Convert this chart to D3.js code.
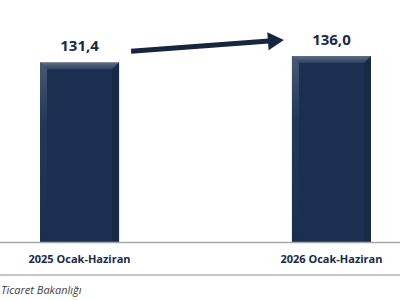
<!DOCTYPE html>
<html>
<head>
<meta charset="utf-8">
<script src="https://cdn.jsdelivr.net/npm/d3@7"></script>
<style>
    body { margin: 0; background: #fff; }
    svg { display: block; }
    .label { font-family: "Open Sans", sans-serif; font-weight: bold; fill: #1a2a44; }
</style>
</head>
<body>
<div id="chart"></div>
<script>
/**
 * Data.
 */
const categories = ['2025 Ocak-Haziran', '2026 Ocak-Haziran'];
const values = [131.4, 136.0];
const valueLabels = ['131,4', '136,0'];
const source = 'Ticaret Bakanlığı';

/**
 * Visual configs.
 */
const visWidth = 400, visHeight = 300;
const baseY = 242.5, topY = 56;
const barColor = '#1b3050';
const bevel = 7;

const svg = d3.select('#chart').append('svg')
    .attr('width', visWidth)
    .attr('height', visHeight);

const defs = svg.append('defs');
const gTop = defs.append('linearGradient').attr('id', 'bevel-top')
    .attr('x1', 0).attr('y1', 0).attr('x2', 0).attr('y2', 1);
gTop.append('stop').attr('offset', 0).attr('stop-color', '#fff').attr('stop-opacity', 0.3);
gTop.append('stop').attr('offset', 1).attr('stop-color', '#fff').attr('stop-opacity', 0.08);
const gSide = defs.append('linearGradient').attr('id', 'bevel-side')
    .attr('x1', 0).attr('y1', 0).attr('x2', 0).attr('y2', 1);
gSide.append('stop').attr('offset', 0).attr('stop-color', '#fff').attr('stop-opacity', 0.2);
gSide.append('stop').attr('offset', 0.35).attr('stop-color', '#fff').attr('stop-opacity', 0.03);
gSide.append('stop').attr('offset', 1).attr('stop-color', '#000').attr('stop-opacity', 0.05);

/**
 * Scales.
 */
const xScale = d3.scaleBand()
    .domain(categories)
    .range([40, 371])
    .paddingInner(0.686)
    .paddingOuter(0);
const yScale = d3.scaleLinear()
    .domain([0, d3.max(values)])
    .range([baseY, topY]);

const data = categories.map((c, i) => ({ cat: c, value: values[i], label: valueLabels[i] }));

// Bars with a bevel
const bars = svg.selectAll('g.bar').data(data).enter().append('g').attr('class', 'bar');
bars.each(function(d) {
    const g = d3.select(this);
    const x0 = xScale(d.cat), x1 = x0 + xScale.bandwidth(),
        y0 = yScale(d.value), y1 = baseY;
    g.append('rect')
        .attr('x', x0).attr('y', y0)
        .attr('width', x1 - x0).attr('height', y1 - y0)
        .attr('fill', barColor);
    // top bevel
    g.append('polygon')
        .attr('points', [[x0, y0], [x1, y0], [x1 - bevel, y0 + bevel], [x0 + bevel, y0 + bevel]].join(' '))
        .attr('fill', 'url(#bevel-top)');
    // left bevel
    g.append('polygon')
        .attr('points', [[x0, y0], [x0 + bevel, y0 + bevel], [x0 + bevel, y1], [x0, y1]].join(' '))
        .attr('fill', 'url(#bevel-side)');
    // right bevel (slightly darker)
    g.append('polygon')
        .attr('points', [[x1, y0], [x1 - bevel, y0 + bevel], [x1 - bevel, y1], [x1, y1]].join(' '))
        .attr('fill', '#000').attr('fill-opacity', 0.12);
});

// Value labels
svg.selectAll('text.value').data(data).enter().append('text')
    .attr('class', 'label value')
    .attr('x', d => xScale(d.cat) + xScale.bandwidth() / 2)
    .attr('y', d => yScale(d.value) - 11)
    .attr('text-anchor', 'middle')
    .attr('font-size', 15)
    .text(d => d.label);

// Baseline and bottom rule
svg.append('line')
    .attr('x1', 0).attr('x2', visWidth)
    .attr('y1', baseY).attr('y2', baseY)
    .attr('stroke', '#a6a6a6').attr('stroke-width', 1.5);
svg.append('line')
    .attr('x1', 0).attr('x2', visWidth)
    .attr('y1', 275).attr('y2', 275)
    .attr('stroke', '#8c8c8c').attr('stroke-width', 1);

// Category labels
svg.selectAll('text.cat').data(data).enter().append('text')
    .attr('class', 'label cat')
    .attr('x', d => xScale(d.cat) + xScale.bandwidth() / 2)
    .attr('y', 263)
    .attr('text-anchor', 'middle')
    .attr('font-size', 11)
    .text(d => d.cat);

// Trend arrow, from above first label to second
const ax0 = xScale(categories[0]) + xScale.bandwidth() + 12,
    ay0 = yScale(values[0]) - 11,
    ax1 = xScale(categories[1]) - 8,
    ay1 = yScale(values[1]) - 16;
const ang = Math.atan2(ay1 - ay0, ax1 - ax0);
const headLen = 16, headW = 9;
const hx = ax1 - headLen * Math.cos(ang), hy = ay1 - headLen * Math.sin(ang);
svg.append('line')
    .attr('x1', ax0).attr('y1', ay0)
    .attr('x2', hx + Math.cos(ang)).attr('y2', hy + Math.sin(ang))
    .attr('stroke', '#17263f').attr('stroke-width', 5);
svg.append('polygon')
    .attr('points', [
        [ax1, ay1],
        [hx - headW * Math.sin(ang), hy + headW * Math.cos(ang)],
        [hx + headW * Math.sin(ang), hy - headW * Math.cos(ang)]
    ].join(' '))
    .attr('fill', '#17263f');

// Source
svg.append('text')
    .attr('x', 1).attr('y', 294)
    .attr('font-family', '"Open Sans", sans-serif')
    .attr('font-style', 'italic')
    .attr('font-size', 11)
    .attr('fill', '#404040')
    .text(source);
</script>
</body>
</html>
